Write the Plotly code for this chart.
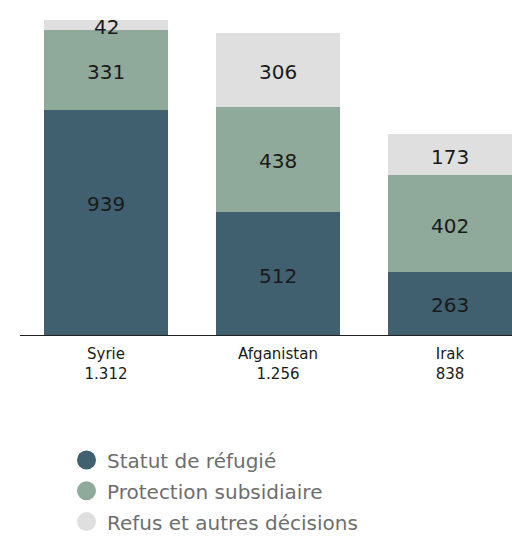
import plotly.graph_objects as go

# Asylum decisions by country of origin
countries = ["Syrie", "Afganistan", "Irak"]
totals = ["1.312", "1.256", "838"]
refugie = [939, 512, 263]
subsidiaire = [331, 438, 402]
refus = [42, 306, 173]

series_names = ["Statut de réfugié", "Protection subsidiaire", "Refus et autres décisions"]
series_values = [refugie, subsidiaire, refus]
series_colors = ["#405f6f", "#8fa99b", "#dfdfdf"]

W, H = 512, 536
ML, MR, MT, MB = 20, 0, 20, 201
PW, PH = W - ML - MR, H - MT - MB

# labels sit at the segment middle, but never further than this below the segment top
LABEL_MAX_DROP = 385


def px_x(px):
    return (px - ML) / PW


def px_y(py):
    return (H - MB - py) / PH


tick_text = [f"{c}<br>{t}" for c, t in zip(countries, totals)]
font_family = "DejaVu Sans, sans-serif"

fig = go.Figure()
base = [0, 0, 0]
annotations = []
shapes = []
for name, vals, color in zip(series_names, series_values, series_colors):
    fig.add_trace(go.Bar(
        x=countries, y=vals, name=name, marker_color=color,
        marker_line_width=0, showlegend=False, hoverinfo="skip",
    ))
    # value label inside each segment
    for c, b, v in zip(countries, base, vals):
        annotations.append(dict(
            x=c, y=b + v - min(v / 2, LABEL_MAX_DROP), text=str(v),
            showarrow=False, yshift=-2,
            font=dict(size=20, color="#1a1a1a"), xref="x", yref="y",
        ))
    base = [b + v for b, v in zip(base, vals)]

# legend: round swatch + label per series
for i, (name, color) in enumerate(zip(series_names, series_colors)):
    cy = 460 + i * 30.8
    shapes.append(dict(
        type="circle", xref="paper", yref="paper",
        x0=px_x(77), x1=px_x(96), y0=px_y(cy + 9.5), y1=px_y(cy - 9.5),
        fillcolor=color, line_width=0,
    ))
    annotations.append(dict(
        x=px_x(106), y=px_y(cy + 1), xref="paper", yref="paper",
        xanchor="left", yanchor="middle", text=name, showarrow=False,
        borderpad=0, font=dict(size=20, color="#6e6e6e"),
    ))

fig.update_layout(
    width=W, height=H,
    margin=dict(l=ML, r=MR, t=MT, b=MB, autoexpand=False),
    plot_bgcolor="white", paper_bgcolor="white",
    barmode="stack", bargap=0.28,
    font=dict(family=font_family),
    annotations=annotations, shapes=shapes,
    showlegend=False,
    xaxis=dict(
        range=[-0.5, 2.3605], tickmode="array", tickvals=countries,
        ticktext=tick_text, showline=True, linecolor="#222", linewidth=1,
        ticks="", ticklabelstandoff=5, tickfont=dict(size=15, color="#1a1a1a"),
        showgrid=False, fixedrange=True,
    ),
    yaxis=dict(range=[0, 1312], visible=False, showgrid=False, fixedrange=True),
)

fig.write_html("out.html")
